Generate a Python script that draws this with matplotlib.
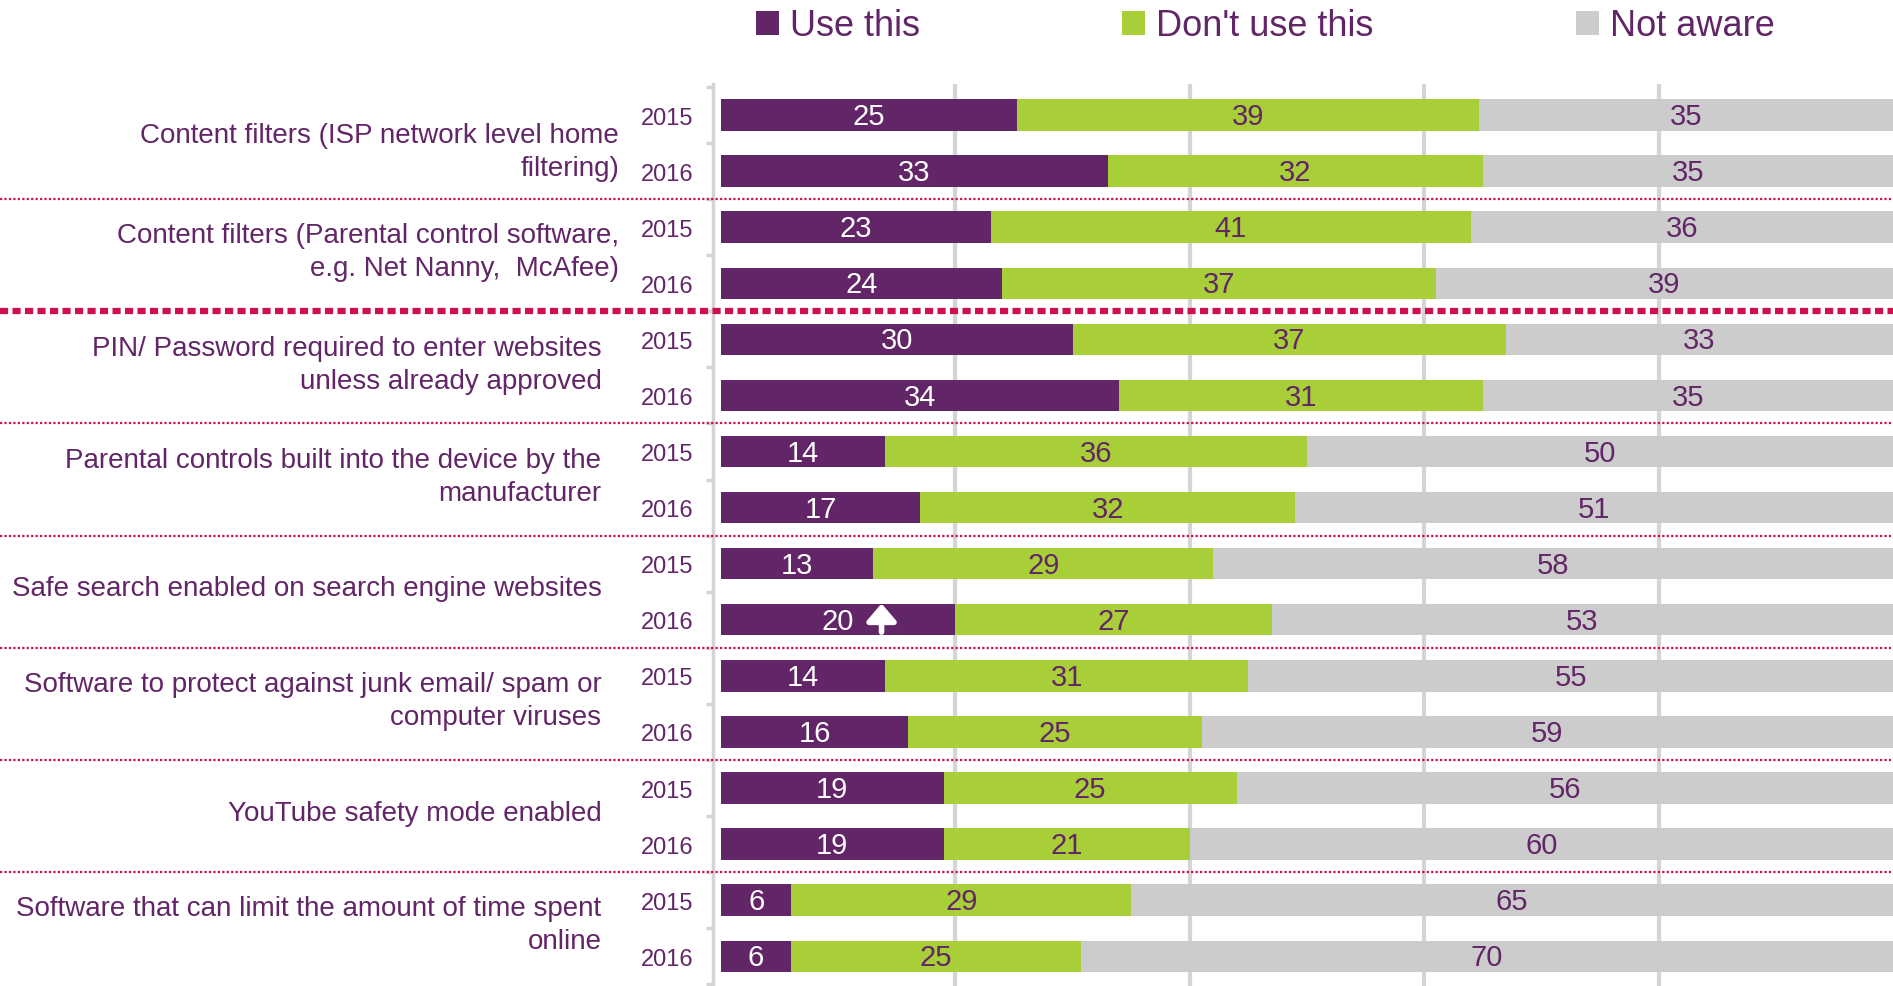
#!/usr/bin/env python3

import matplotlib
matplotlib.use('Agg')
import matplotlib.pyplot as plt
from matplotlib.patches import Patch
import numpy as np

plt.rcParams['font.family'] = ['Liberation Sans', 'DejaVu Sans']

categories = [
    'Content filters (ISP network level home\nfiltering)',
    'Content filters (Parental control software,\ne.g. Net Nanny,  McAfee)',
    'PIN/ Password required to enter websites\nunless already approved',
    'Parental controls built into the device by the\nmanufacturer',
    'Safe search enabled on search engine websites',
    'Software to protect against junk email/ spam or\ncomputer viruses',
    'YouTube safety mode enabled',
    'Software that can limit the amount of time spent\nonline',
]
years = ['2015', '2016']
use_this = [25, 33, 23, 24, 30, 34, 14, 17, 13, 20, 14, 16, 19, 19, 6, 6]
dont_use = [39, 32, 41, 37, 37, 31, 36, 32, 29, 27, 31, 25, 25, 21, 29, 25]
not_aware = [35, 35, 36, 39, 33, 35, 50, 51, 58, 53, 55, 59, 56, 60, 65, 70]
series_names = ['Use this', "Don't use this", 'Not aware']
up_rows = [9]  # significant increase vs 2015

PURPLE = '#622567'
GREEN = '#a8cf38'
GREY = '#cccccc'
RED = '#d0104c'
AXGREY = '#d4d4d4'

W, H = 1893, 987
fig = plt.figure(figsize=(W / 100, H / 100), dpi=100)
ax = fig.add_axes([713 / W, 0, 1 - 713 / W, 1 - 85 / H])

values = np.array([use_this, dont_use, not_aware], dtype=float)
shares = values / values.sum(axis=0) * 100
rows = np.arange(len(use_this))
colors = [PURPLE, GREEN, GREY]
text_colors = ['white', PURPLE, PURPLE]

left = np.zeros(len(rows))
for k in range(3):
    ax.barh(rows, shares[k], left=left, height=0.56, color=colors[k],
            edgecolor='none', zorder=2)
    for i in rows:
        ax.text(left[i] + shares[k][i] / 2, i + 0.02, str(int(values[k][i])),
                ha='center', va='center', fontsize=21,
                color=text_colors[k], zorder=4)
    left += shares[k]

for i in up_rows:
    xa = shares[0][i] / 2 + 3.7
    ax.annotate('', xy=(xa, i - 0.29), xytext=(xa, i + 0.22),
                arrowprops=dict(arrowstyle='-|>,head_width=0.3,head_length=0.35',
                                color='white', lw=4,
                                mutation_scale=30, shrinkA=0, shrinkB=0),
                zorder=5)

ax.set_xlim(-0.68, 100)
ax.set_ylim(15.53, -0.553)

for gx in [20, 40, 60, 80]:
    ax.axvline(gx, color=AXGREY, lw=3, zorder=1)

for s in ['top', 'right', 'bottom']:
    ax.spines[s].set_visible(False)
ax.spines['left'].set_color(AXGREY)
ax.spines['left'].set_linewidth(2.5)
ax.set_xticks([])
ax.set_yticks(rows)
ax.set_yticklabels(years * len(categories), fontsize=17, color=PURPLE)
ax.tick_params(axis='y', which='major', length=0, pad=14)
ax.set_yticks(np.arange(-0.5, 16, 1), minor=True)
ax.tick_params(axis='y', which='minor', length=5, width=2.5, color=AXGREY)

# group separators
fig_left = -(713 / W) / (1 - 713 / W)
for g in range(1, len(categories)):
    yb = 2 * g - 0.5
    if g == 2:
        ax.axhline(yb, xmin=fig_left, xmax=1, color=RED, lw=4.5,
                   linestyle=(0, (1.3, 0.7)), clip_on=False, zorder=3)
    else:
        ax.axhline(yb, xmin=fig_left, xmax=1, color=RED, lw=1.6,
                   linestyle=(0, (1, 1)), clip_on=False, zorder=3)

# category labels
for g, name in enumerate(categories):
    xr = -8.7 if g < 2 else -10.2
    dy = 0.15 if g == 0 else -0.06
    ax.text(xr, 2 * g + 0.5 + dy, name, ha='right', va='center',
            fontsize=20, color=PURPLE, linespacing=1.35, clip_on=False)

handles = [Patch(facecolor=c, edgecolor='none') for c in colors]
fig.legend(handles, series_names, loc='center left',
           bbox_to_anchor=(756 / W, 1 - 27 / H), ncol=3, frameon=False,
           fontsize=26, labelcolor=PURPLE, handlelength=0.64,
           handleheight=0.64, handletextpad=0.3, columnspacing=5.6,
           borderpad=0, borderaxespad=0)

fig.savefig('out.png', dpi=100)
